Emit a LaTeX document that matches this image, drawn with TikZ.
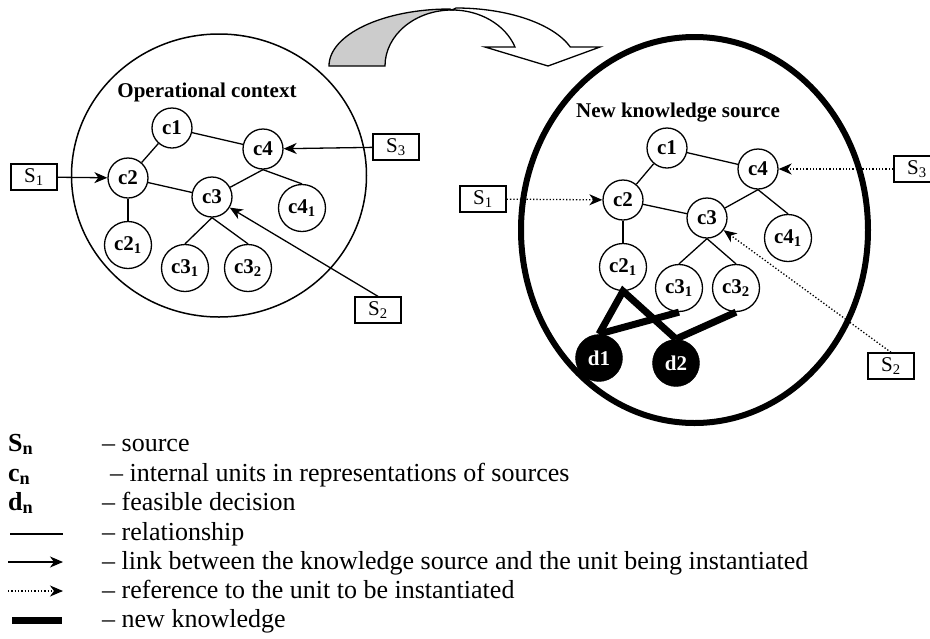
\documentclass[tikz,border=0pt]{standalone}
\usepackage{fontspec}
\setmainfont{Liberation Serif}
\usetikzlibrary{arrows.meta}
\begin{document}
\begin{tikzpicture}[x=1pt,y=1pt,
  every node/.style={inner sep=0pt},
  unit/.style={circle,draw,line width=1.3pt,fill=white,minimum size=40pt,font=\fontsize{21}{24}\selectfont\bfseries},
  unitsub/.style={unit,minimum size=47pt},
  dec/.style={circle,fill=black,draw=black,minimum size=47pt,text=white,font=\fontsize{21}{24}\selectfont\bfseries},
  src/.style={draw,line width=1.3pt,minimum width=46pt,minimum height=26pt,fill=white,font=\fontsize{21}{24}\selectfont},
  rel/.style={line width=1.3pt},
  link/.style={line width=1.3pt,-{Stealth[length=13pt,width=11pt,inset=4pt]}},
  ref/.style={link,dotted},
  newk/.style={line width=7pt},
  ttl/.style={font=\fontsize{21}{24}\selectfont\bfseries},
  leg/.style={anchor=base west,font=\fontsize{26}{30}\selectfont},
]
\useasboundingbox (0,0) rectangle (930,-638);

% big curved arrow
\draw[line width=1.3pt,fill=white,line join=miter]
  (456,-8) arc[start angle=90,end angle=19.1,x radius=121pt,y radius=58pt]
  -- (600,-47) -- (548,-66) -- (485,-47) -- (515,-47)
  arc[start angle=19.8,end angle=90,x radius=67pt,y radius=56pt] -- cycle;
\draw[line width=1.3pt,fill=black!20,line join=miter]
  (329,-66) arc[start angle=180,end angle=90,x radius=121pt,y radius=57pt]
  -- (452,-10) arc[start angle=90,end angle=180,x radius=67pt,y radius=56pt] -- cycle;

% container ellipses
\draw[line width=1.5pt] (219,-175.5) ellipse[x radius=147.5pt,y radius=141.5pt];
\draw[line width=6pt] (694.5,-230) ellipse[x radius=173.5pt,y radius=193pt];

% ---------- left: operational context ----------
\node[ttl] (lt) at (207,-92) {Operational context};
\node[unit] (lc1) at (172,-128) {c1};
\node[unit] (lc4) at (263,-149) {c4};
\node[unit] (lc2) at (128,-178) {c2};
\node[unit] (lc3) at (212,-197) {c3};
\node[unitsub] (lc41) at (302,-208) {c4\textsubscript{1}};
\node[unitsub] (lc21) at (128,-245) {c2\textsubscript{1}};
\node[unitsub] (lc31) at (185,-268) {c3\textsubscript{1}};
\node[unitsub] (lc32) at (248,-268) {c3\textsubscript{2}};
\node[src] (lS1) at (34,-177) {S\textsubscript{1}};
\node[src] (lS3) at (396,-147) {S\textsubscript{3}};
\node[src] (lS2) at (378,-310) {S\textsubscript{2}};

\draw[rel] (lc1) -- (lc2);
\draw[rel] (lc1) -- (lc4);
\draw[rel] (lc2) -- (lc3);
\draw[rel] (lc2) -- (lc21);
\draw[rel] (lc4.south) -- (lc3);
\draw[rel] (lc4.south) -- (lc41.north);
\draw[rel] (lc3.south) -- (lc31.north);
\draw[rel] (lc3.south) -- (lc32.north);
\draw[link] (lS1) -- (lc2);
\draw[link] (lS3) -- (lc4);
\draw[link] (lS2.north) -- (lc3);

% ---------- right: new knowledge source ----------
\node[ttl] (rt) at (678,-113) {New knowledge source};
\node[unit] (rc1) at (667,-148) {c1};
\node[unit] (rc4) at (758,-169) {c4};
\node[unit] (rc2) at (623,-200) {c2};
\node[unit] (rc3) at (707,-218) {c3};
\node[unitsub] (rc41) at (788,-238) {c4\textsubscript{1}};
\node[unitsub] (rc21) at (623,-267) {c2\textsubscript{1}};
\node[unitsub] (rc31) at (679,-288) {c3\textsubscript{1}};
\node[unitsub] (rc32) at (736,-288) {c3\textsubscript{2}};
\node[src] (rS1) at (483,-199) {S\textsubscript{1}};
\node[src] (rS3) at (917,-169) {S\textsubscript{3}};
\node[src] (rS2) at (891,-366) {S\textsubscript{2}};

\draw[rel] (rc1) -- (rc2);
\draw[rel] (rc1) -- (rc4);
\draw[rel] (rc2) -- (rc3);
\draw[rel] (rc2) -- (rc21);
\draw[rel] (rc4.south) -- (rc3);
\draw[rel] (rc4.south) -- (rc41.north);
\draw[rel] (rc3.south) -- (rc31.north);
\draw[rel] (rc3.south) -- (rc32.north);
\draw[ref] (rS1) -- (rc2);
\draw[ref] (rS3) -- (rc4);
\draw[ref] (rS2.north) -- (rc3);

\coordinate (d1top) at (599,-334);
\coordinate (d2top) at (676,-339);
\draw[newk,line join=miter] (d1top) -- (rc21.south) -- (d2top);
\draw[newk] (d1top) -- (rc31.south);
\draw[newk] (d2top) -- (rc32.south);
\node[dec] (rd1) at (599,-358) {d1};
\node[dec] (rd2) at (676,-363) {d2};

% ---------- legend ----------
\node[leg] (k1a) at (8,-451) {\textbf{S\textsubscript{n}}};
\node[leg] (k1b) at (102,-451) {– source};
\node[leg] (k2a) at (8,-481) {\textbf{c\textsubscript{n}}};
\node[leg] (k2b) at (110,-481) {– internal units in representations of sources};
\node[leg] (k3a) at (8,-510) {\textbf{d\textsubscript{n}}};
\node[leg] (k3b) at (102,-510) {– feasible decision};
\coordinate (k4a) at (10,-534); \coordinate (k4b) at (63,-534);
\draw[rel] (k4a) -- (k4b);
\node[leg] (k4t) at (102,-540) {– relationship};
\coordinate (k5a) at (8,-562); \coordinate (k5b) at (63,-562);
\draw[link] (k5a) -- (k5b);
\node[leg] (k5t) at (102,-569) {– link between the knowledge source and the unit being instantiated};
\coordinate (k6a) at (8,-591); \coordinate (k6b) at (63,-591);
\draw[ref] (k6a) -- (k6b);
\node[leg] (k6t) at (102,-598) {– reference to the unit to be instantiated};
\coordinate (k7a) at (12,-620); \coordinate (k7b) at (62,-620);
\draw[newk] (k7a) -- (k7b);
\node[leg] (k7t) at (102,-627) {– new knowledge};
\end{tikzpicture}
\end{document}
